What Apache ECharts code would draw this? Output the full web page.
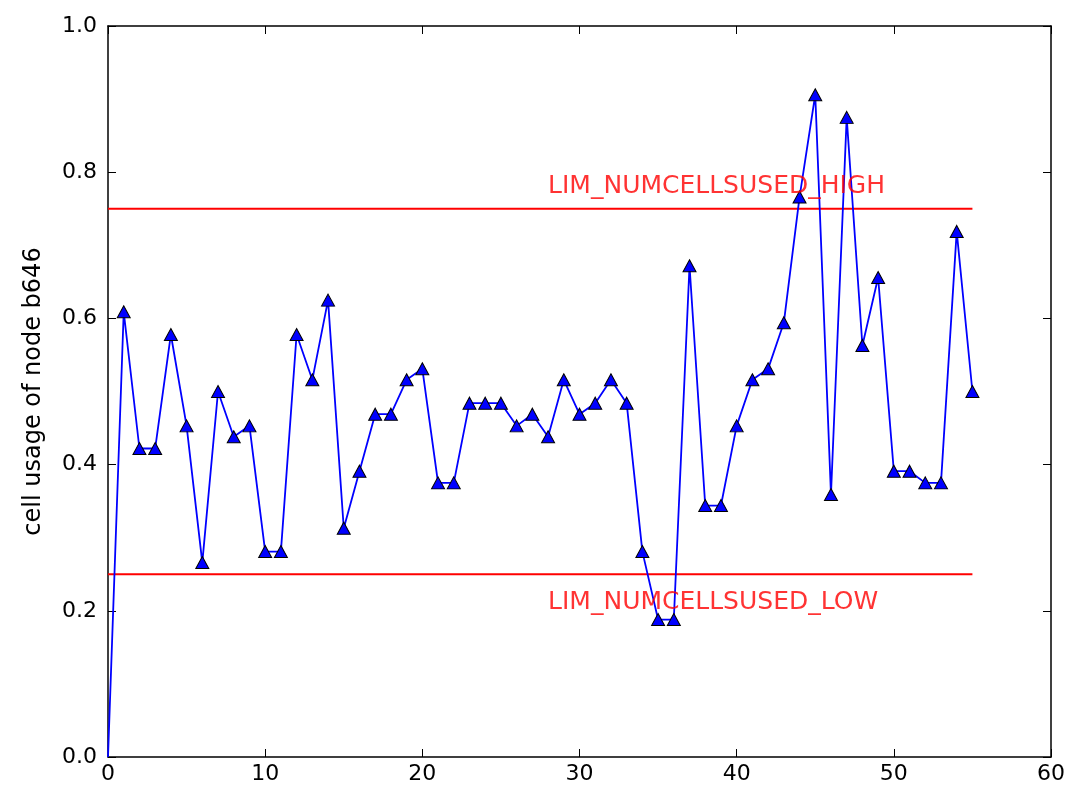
<!DOCTYPE html>
<html>
<head>
<meta charset="utf-8">
<script src="https://cdn.jsdelivr.net/npm/echarts@6/dist/echarts.min.js"></script>
<style>
html,body{margin:0;padding:0;background:#fff;}
#chart{width:1068px;height:789px;}
</style>
</head>
<body>
<div id="chart"></div>
<script>
// Data
const xValues = [0,1,2,3,4,5,6,7,8,9,10,11,12,13,14,15,16,17,18,19,20,21,22,23,24,25,26,27,28,29,30,31,32,33,34,35,36,37,38,39,40,41,42,43,44,45,46,47,48,49,50,51,52,53,54,55];
const cellUsage = [0,0.609,0.422,0.422,0.578,0.453,0.266,0.5,0.438,0.453,0.281,0.281,0.578,0.516,0.625,0.313,0.391,0.469,0.469,0.516,0.531,0.375,0.375,0.484,0.484,0.484,0.453,0.469,0.438,0.516,0.469,0.484,0.516,0.484,0.281,0.188,0.188,0.672,0.344,0.344,0.453,0.516,0.531,0.594,0.766,0.906,0.359,0.875,0.563,0.656,0.391,0.391,0.375,0.375,0.719,0.5];
const limitNames = ['LIM_NUMCELLSUSED_HIGH','LIM_NUMCELLSUSED_LOW'];
const limitValues = [0.75, 0.25];
const limitRange = [0, 55];
const limitLabelX = [28, 28];
const limitLabelY = [0.764, 0.194];
const xTicks = [0,10,20,30,40,50,60];
const yTicks = [0.0,0.2,0.4,0.6,0.8,1.0];
const yAxisTitle = 'cell usage of node b646';

const font = 'DejaVu Sans';
const axisCommon = {
  type:'value',
  axisLine:{show:true,onZero:false,lineStyle:{color:'#000',width:1.5}},
  axisTick:{show:true,inside:true,length:8,lineStyle:{color:'#000',width:1}},
  splitLine:{show:false}
};

const series = [];
limitValues.forEach((v,i)=>{
  series.push({
    type:'line', silent:true, symbol:'none', z:1,
    data: limitRange.map(x=>[x,v]),
    lineStyle:{color:'#ff0000',width:1.8}
  });
});
series.push({
  type:'line', z:3,
  data: xValues.map((x,i)=> i===0 ? {value:[x,cellUsage[i]],symbol:'none'} : [x,cellUsage[i]]),
  showAllSymbol:true,
  symbol:'triangle', symbolSize:[13,12],
  lineStyle:{color:'#0000ff',width:1.8},
  itemStyle:{color:'#0000ff',borderColor:'#000',borderWidth:1}
});
series.push({
  type:'scatter', silent:true, symbolSize:0, z:4,
  data: limitNames.map((n,i)=>({name:n,value:[limitLabelX[i],limitLabelY[i]]})),
  label:{show:true,position:'right',distance:0,verticalAlign:'bottom',formatter:p=>p.name,color:'#ff0000',fontSize:25,fontFamily:font}
});

const chart = echarts.init(document.getElementById('chart'),null,{renderer:'canvas'});
chart.setOption({
  animation:false,
  backgroundColor:'#fff',
  grid:{left:108,top:26,right:16,bottom:32,containLabel:false},
  xAxis:[
    Object.assign({},axisCommon,{position:'bottom',min:xTicks[0],max:xTicks[xTicks.length-1],interval:10,
      axisLabel:{color:'#000',fontSize:22,fontFamily:font,margin:6,showMaxLabel:true,showMinLabel:true}}),
    Object.assign({},axisCommon,{position:'top',min:xTicks[0],max:xTicks[xTicks.length-1],interval:10,axisLabel:{show:false}})
  ],
  yAxis:[
    Object.assign({},axisCommon,{position:'left',min:yTicks[0],max:yTicks[yTicks.length-1],interval:0.2,
      name:yAxisTitle,nameLocation:'middle',nameGap:62,nameRotate:90,
      nameTextStyle:{color:'#000',fontSize:24,fontFamily:font},
      axisLabel:{color:'#000',fontSize:22,fontFamily:font,margin:11,formatter:v=>v.toFixed(1)}}),
    Object.assign({},axisCommon,{position:'right',min:yTicks[0],max:yTicks[yTicks.length-1],interval:0.2,axisLabel:{show:false}})
  ],
  series:series
});
</script>
</body>
</html>
